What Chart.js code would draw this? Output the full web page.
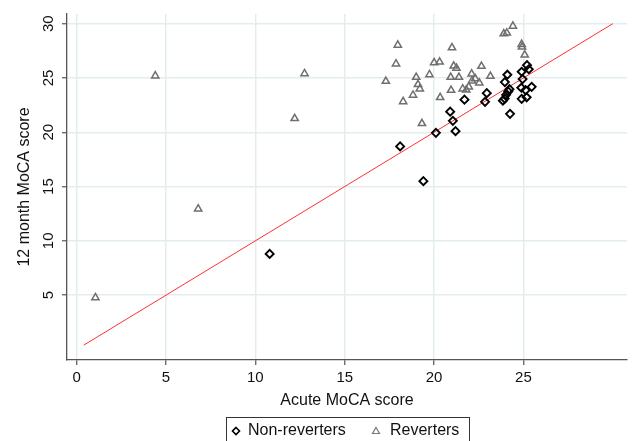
<!DOCTYPE html>
<html>
<head>
<meta charset="utf-8">
<script src="https://cdn.jsdelivr.net/npm/chart.js@4.4.1/dist/chart.umd.min.js"></script>
<style>
  html, body { margin: 0; padding: 0; background: #fff; }
  #wrap { width: 633px; height: 441px; position: relative; }
</style>
</head>
<body>
<div id="wrap"><canvas id="moca"></canvas></div>
<script>
// values (points carry some jitter)
const nonRevAcute = [10.8, 18.1, 19.4, 20.1, 20.9, 21.05, 21.2, 21.7, 22.85, 22.95,
  23.85, 23.95, 24.03, 24.15, 24.22, 24.25, 23.96, 24.1, 24.9, 25.2,
  25.3, 24.95, 24.88, 25.12, 25.46, 24.9, 25.18];
const nonRev12m = [8.8, 18.7, 15.5, 19.95, 21.9, 21.05, 20.1, 23.0, 22.8, 23.6,
  22.9, 23.1, 23.45, 23.75, 23.97, 21.7, 24.62, 25.3, 25.57, 26.18,
  25.8, 24.9, 24.1, 23.88, 24.18, 23.08, 23.22];

const revAcute = [1.05, 4.4, 6.8, 12.2, 12.75, 17.3, 17.87, 17.97, 18.27, 18.82,
  19.0, 19.1, 19.2, 19.32, 19.74, 20.0, 20.31, 20.34, 20.93, 20.95,
  21.0, 21.1, 21.25, 21.39, 21.6, 21.8, 21.94, 22.1, 22.12, 22.3,
  22.53, 22.65, 23.15, 23.9, 24.07, 24.41, 24.9, 24.92, 25.07];
const rev12m = [4.77, 25.2, 12.95, 21.27, 25.4, 24.7, 26.3, 28.03, 22.83, 23.42,
  25.07, 24.4, 24.0, 20.81, 25.31, 26.41, 26.47, 23.2, 25.07, 23.87,
  27.79, 26.1, 25.9, 25.07, 24.0, 23.9, 24.18, 25.37, 24.73, 24.94,
  24.55, 26.08, 25.16, 29.07, 29.14, 29.78, 28.1, 27.85, 27.12];

const refLineX = [0.4, 30];
const refLineY = [0.4, 30];

const xTicks = [0, 5, 10, 15, 20, 25];
const yTicks = [5, 10, 15, 20, 25, 30];
const legendLabels = ['Non-reverters', 'Reverters'];

const FONT = '"Liberation Sans", Arial, Helvetica, sans-serif';

function toPoints(xs, ys) {
  return xs.map((x, i) => ({ x: x, y: ys[i] }));
}

// Stata-like boxed legend under the axis title
const boxedLegend = {
  id: 'boxedLegend',
  afterDraw(chart) {
    const ctx = chart.ctx;
    const cy = 431;
    ctx.save();
    ctx.strokeStyle = '#333';
    ctx.lineWidth = 1;
    ctx.strokeRect(226.5, 417.5, 243, 40);
    ctx.font = '16px ' + FONT;
    ctx.textBaseline = 'middle';
    ctx.fillStyle = '#111';

    // diamond marker
    let mx = 236;
    ctx.beginPath();
    ctx.moveTo(mx, cy - 3.5);
    ctx.lineTo(mx + 3.5, cy);
    ctx.lineTo(mx, cy + 3.5);
    ctx.lineTo(mx - 3.5, cy);
    ctx.closePath();
    ctx.strokeStyle = '#000';
    ctx.lineWidth = 1.6;
    ctx.stroke();
    ctx.fillText(legendLabels[0], 248, cy);

    // triangle marker
    mx = 376;
    ctx.beginPath();
    ctx.moveTo(mx, cy - 3.5);
    ctx.lineTo(mx + 3.5, cy + 2.5);
    ctx.lineTo(mx - 3.5, cy + 2.5);
    ctx.closePath();
    ctx.strokeStyle = '#777';
    ctx.lineWidth = 1.2;
    ctx.stroke();
    ctx.fillText(legendLabels[1], 390, cy);
    ctx.restore();
  }
};

const gridOpts = { color: '#e3edf0', lineWidth: 1.5, tickLength: 5, tickColor: '#555', tickWidth: 1.2 };

new Chart(document.getElementById('moca'), {
  type: 'scatter',
  data: {
    datasets: [
      {
        label: legendLabels[0],
        data: toPoints(nonRevAcute, nonRev12m),
        pointStyle: 'rectRot',
        pointRadius: 4,
        borderColor: '#000',
        backgroundColor: 'rgba(0,0,0,0)',
        borderWidth: 1.9
      },
      {
        label: legendLabels[1],
        data: toPoints(revAcute, rev12m),
        pointStyle: 'triangle',
        pointRadius: 4.2,
        borderColor: '#6f6f6f',
        backgroundColor: 'rgba(0,0,0,0)',
        borderWidth: 1.5
      },
      {
        type: 'line',
        label: 'y = x',
        data: toPoints(refLineX, refLineY),
        borderColor: '#ff3030',
        borderWidth: 1,
        pointRadius: 0,
        fill: false
      }
    ]
  },
  options: {
    responsive: true,
    maintainAspectRatio: false,
    animation: false,
    layout: { padding: { top: 13, right: 0, bottom: 30, left: 0 } },
    plugins: {
      legend: { display: false },
      tooltip: { enabled: false }
    },
    scales: {
      x: {
        type: 'linear',
        min: -0.54,
        max: 30.8,
        afterBuildTicks: s => { s.ticks = xTicks.map(v => ({ value: v })); },
        afterFit: s => { s.height = 51; },
        grid: gridOpts,
        border: { color: '#555', width: 1.3 },
        ticks: { font: { size: 15, family: FONT }, color: '#111', padding: 4, maxRotation: 0 },
        title: {
          display: true, text: 'Acute MoCA score', color: '#111',
          font: { size: 16, family: FONT }, padding: { top: 0, bottom: 1 }
        }
      },
      y: {
        type: 'linear',
        min: -0.97,
        max: 30.89,
        afterBuildTicks: s => { s.ticks = yTicks.map(v => ({ value: v })); },
        afterFit: s => { s.width = 67; },
        grid: gridOpts,
        border: { color: '#555', width: 1.3 },
        ticks: {
          font: { size: 15, family: FONT }, color: '#111', padding: 5,
          minRotation: 90, maxRotation: 90, crossAlign: 'center'
        },
        title: {
          display: true, text: '12 month MoCA score', color: '#111',
          font: { size: 16, family: FONT }, padding: { top: 15, bottom: 0 }
        }
      }
    }
  },
  plugins: [boxedLegend]
});
</script>
</body>
</html>
